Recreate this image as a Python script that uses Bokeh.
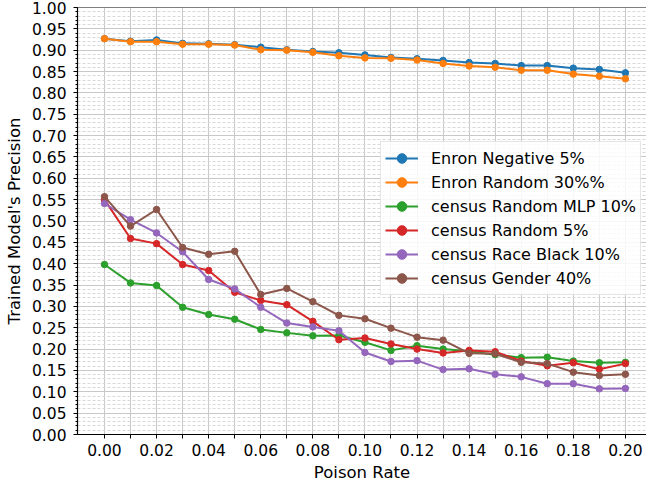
from bokeh.plotting import figure
from bokeh.models import (Range1d, FixedTicker, PrintfTickFormatter, CustomJSTickFormatter,
                          Legend, LegendItem, Span)
from bokeh.embed import file_html
from bokeh.resources import INLINE

poison_rate = [0.00, 0.01, 0.02, 0.03, 0.04, 0.05, 0.06, 0.07, 0.08, 0.09, 0.10,
               0.11, 0.12, 0.13, 0.14, 0.15, 0.16, 0.17, 0.18, 0.19, 0.20]

enron_negative_5 = [0.927, 0.921, 0.924, 0.916, 0.915, 0.913, 0.907, 0.901, 0.897, 0.894, 0.889,
                    0.883, 0.880, 0.876, 0.871, 0.869, 0.864, 0.864, 0.858, 0.855, 0.847]
enron_random_30 = [0.927, 0.920, 0.920, 0.914, 0.914, 0.912, 0.901, 0.900, 0.895, 0.887, 0.882,
                   0.881, 0.877, 0.869, 0.863, 0.860, 0.853, 0.853, 0.844, 0.839, 0.833]
census_random_mlp_10 = [0.398, 0.355, 0.349, 0.298, 0.281, 0.270, 0.246, 0.238, 0.231, 0.232, 0.216,
                        0.197, 0.208, 0.200, 0.195, 0.187, 0.180, 0.181, 0.172, 0.168, 0.169]
census_random_5 = [0.550, 0.459, 0.447, 0.398, 0.384, 0.333, 0.314, 0.304, 0.265, 0.222, 0.226,
                   0.212, 0.200, 0.191, 0.197, 0.194, 0.172, 0.161, 0.168, 0.153, 0.166]
census_race_black_10 = [0.541, 0.503, 0.472, 0.428, 0.363, 0.341, 0.298, 0.261, 0.252, 0.243, 0.192,
                        0.171, 0.173, 0.152, 0.154, 0.141, 0.135, 0.119, 0.119, 0.107, 0.108]
census_gender_40 = [0.557, 0.488, 0.527, 0.438, 0.422, 0.429, 0.328, 0.342, 0.311, 0.279, 0.271,
                    0.249, 0.228, 0.221, 0.190, 0.189, 0.169, 0.166, 0.146, 0.138, 0.141]

series_labels = ["Enron Negative 5%", "Enron Random 30%%", "census Random MLP 10%",
                 "census Random 5%", "census Race Black 10%", "census Gender 40%"]
series_values = [enron_negative_5, enron_random_30, census_random_mlp_10,
                 census_random_5, census_race_black_10, census_gender_40]
colors = ["#1f77b4", "#ff7f0e", "#2ca02c", "#d62728", "#9467bd", "#8c564b"]

y_ticks = [0.00, 0.05, 0.10, 0.15, 0.20, 0.25, 0.30, 0.35, 0.40, 0.45, 0.50,
           0.55, 0.60, 0.65, 0.70, 0.75, 0.80, 0.85, 0.90, 0.95, 1.00]
y_minor = [i / 100 for i in range(0, 101)]

FONT = "DejaVu Sans"

p = figure(width=646, height=484, output_backend="svg", toolbar_location=None,
           x_range=Range1d(-0.01036, 0.2081), y_range=Range1d(0.0, 1.0),
           min_border_left=77, min_border_right=0, min_border_top=7, min_border_bottom=50)
p.outline_line_color = None
p.background_fill_color = "white"

# axes
p.xaxis.ticker = FixedTicker(ticks=poison_rate)
p.xaxis.formatter = CustomJSTickFormatter(
    code="return (Math.round(tick*100) % 2 === 0) ? tick.toFixed(2) : '';")
p.yaxis.ticker = FixedTicker(ticks=y_ticks, minor_ticks=y_minor)
p.yaxis.formatter = PrintfTickFormatter(format="%.2f")
p.xaxis.axis_label = "Poison Rate"
p.yaxis.axis_label = "Trained Model's Precision"
for ax in (p.xaxis[0], p.yaxis[0]):
    ax.axis_line_color = "black"
    ax.axis_line_width = 1.2
    ax.major_tick_line_color = "black"
    ax.minor_tick_line_color = "black"
    ax.major_tick_in = 0
    ax.major_tick_out = 4
    ax.minor_tick_in = 0
    ax.minor_tick_out = 2
    ax.major_label_text_font = FONT
    ax.major_label_text_font_size = "15.5px"
    ax.major_label_text_color = "black"
    ax.axis_label_text_font = FONT
    ax.axis_label_text_font_size = "16.5px"
    ax.axis_label_text_font_style = "normal"
    ax.axis_label_text_color = "black"
p.xaxis.major_label_standoff = 5
p.xaxis.axis_label_standoff = 4
p.yaxis.major_label_standoff = 7
p.yaxis.axis_label_standoff = 5

# grid
p.xgrid.grid_line_color = "#c8c8c8"
p.xgrid.grid_line_width = 1
p.ygrid.grid_line_color = "#c8c8c8"
p.ygrid.grid_line_width = 1
p.ygrid.minor_grid_line_color = "#d8d8d8"
p.ygrid.minor_grid_line_dash = "3 2"
p.ygrid.minor_grid_line_width = 1

# top spine
p.add_layout(Span(location=1.0, dimension="width", line_color="black", line_width=1.2))

items = []
for label, vals, col in zip(series_labels, series_values, colors):
    ln = p.line(poison_rate, vals, line_color=col, line_width=2)
    sc = p.scatter(poison_rate, vals, marker="circle", size=6.5, fill_color=col, line_color=col)
    items.append(LegendItem(label=label, renderers=[ln, sc]))

legend = Legend(items=items, location=(303, 139), orientation="vertical",
                label_text_font=FONT, label_text_font_size="16px", label_text_color="black",
                glyph_width=33, glyph_height=24, label_height=24, label_standoff=13,
                spacing=0, padding=4, margin=0,
                border_line_color="#cccccc", border_line_width=1,
                background_fill_color="white", background_fill_alpha=0.85)
p.add_layout(legend, "center")

open("out.html", "w").write(file_html(p, INLINE))
